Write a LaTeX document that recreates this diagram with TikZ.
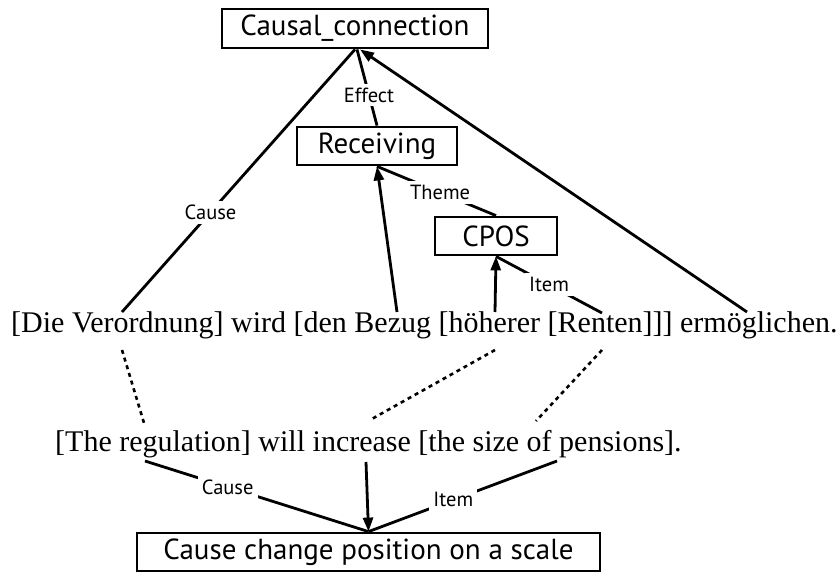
\documentclass[tikz,border=0pt]{standalone}
\usepackage{fontspec}
\setmainfont{Liberation Serif}
\newfontfamily\labelfont{PT Sans}
\usetikzlibrary{arrows.meta}
\begin{document}
\begin{tikzpicture}[x=1pt,y=-1pt,
  frame/.style={draw, line width=2.8pt, inner sep=0pt,
    font=\labelfont\fontsize{29}{32}\selectfont},
  role/.style={font=\labelfont\fontsize{20.5}{23}\selectfont, fill=white, inner sep=4pt},
  sentence/.style={font=\fontsize{30}{34}\selectfont, inner sep=0pt, anchor=base west},
  link/.style={line width=2.8pt},
  arc/.style={link, -{Triangle[length=14pt,width=10pt]}},
  gloss/.style={line width=2.6pt, dash pattern=on 4pt off 4pt},
]
\useasboundingbox (0,0) rectangle (840,572);

% frame boxes
\node[frame, minimum width=266pt, minimum height=39pt] (cc) at (355,28.5) {Causal\_connection};
\node[frame, minimum width=160pt, minimum height=38pt] (rec) at (377,146) {Receiving};
\node[frame, minimum width=122pt, minimum height=38pt] (cpos) at (496,236) {CPOS};
\node[frame, minimum width=463pt, minimum height=38pt] (ccp) at (368.5,552) {Cause change position on a scale};

% the two sentences
\node[sentence] (de) at (11,332) {[Die Verordnung] wird [den Bezug [höherer [Renten]]] ermöglichen.};
\node[sentence] (en) at (55,451) {[The regulation] will increase [the size of pensions].};

% attachment points on the words
\coordinate (de-cause) at (122,312);
\coordinate (de-bezug) at (397,312);
\coordinate (de-hoeh) at (495,312);
\coordinate (de-renten) at (602,313);
\coordinate (de-erm) at (747,312);
\coordinate (de-die-b) at (122,350);
\coordinate (de-hoeh-b) at (495,350);
\coordinate (de-renten-b) at (602,350);
\coordinate (en-reg-t) at (144,423);
\coordinate (en-incr-t) at (370,420);
\coordinate (en-size-t) at (536,421);
\coordinate (en-reg-b) at (145,461);
\coordinate (en-incr-b) at (366,462);
\coordinate (en-pens-b) at (557,461);

% German frame structure
\draw[link] (cc.south) -- node[role, pos=0.62] {Cause} (de-cause);
\draw[link] ([xshift=2pt]cc.south) -- node[role, pos=0.6] {Effect} (rec.north);
\draw[arc] (de-erm) -- ([xshift=5pt]cc.south);
\draw[arc] (de-bezug) -- (rec.south);
\draw[link] (rec.south) -- node[role, pos=0.53] {Theme} (cpos.north);
\draw[arc] (de-hoeh) -- (cpos.south);
\draw[link] (cpos.south) -- node[role, pos=0.5] {Item} (de-renten);

% word alignment between the sentences
\draw[gloss] (de-die-b) -- (en-reg-t);
\draw[gloss] (de-hoeh-b) -- (en-incr-t);
\draw[gloss] (de-renten-b) -- (en-size-t);

% English frame structure
\draw[link] (en-reg-b) -- node[role, pos=0.37] {Cause} (ccp.north);
\draw[arc] (en-incr-b) -- (ccp.north);
\draw[link] (en-pens-b) -- node[role, pos=0.55] {Item} (ccp.north);
\end{tikzpicture}
\end{document}
